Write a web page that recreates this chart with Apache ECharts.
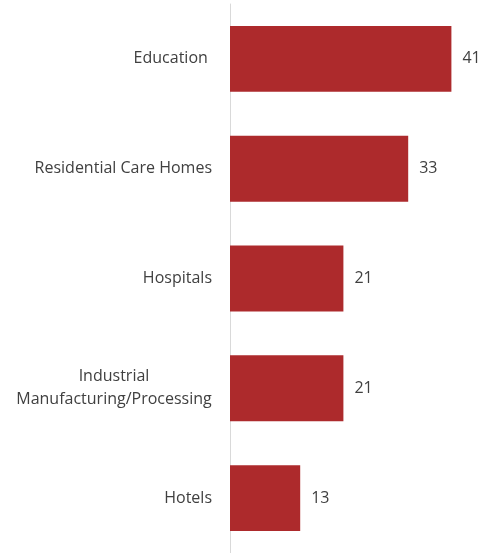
<!DOCTYPE html>
<html>
<head>
<meta charset="utf-8">
<script src="https://cdn.jsdelivr.net/npm/echarts@6/dist/echarts.min.js"></script>
<style>
  html, body { margin: 0; padding: 0; background: #fff; }
  #chart { width: 498px; height: 553px; }
</style>
</head>
<body>
<div id="chart"></div>
<script>
// sectors, top to bottom
const categories = ['Education ', 'Residential Care Homes', 'Hospitals', 'Industrial\nManufacturing/Processing', 'Hotels'];
const values = [41, 33, 21, 21, 13];

const labelFont = '16px "Open Sans"';
// width of the longest line, so wrapped labels centre their lines
const ctx = document.createElement('canvas').getContext('2d');
ctx.font = labelFont;
const longLine = Math.ceil(ctx.measureText('Manufacturing/Processing').width);

const chart = echarts.init(document.getElementById('chart'));
const option = {
  animation: false,
  grid: { left: 230, right: 25, top: 4, height: 549 },
  xAxis: {
    type: 'value',
    min: 0,
    max: 45,
    show: false
  },
  yAxis: {
    type: 'category',
    inverse: true,
    data: categories,
    axisLine: { show: true, lineStyle: { color: '#d9d9d9', width: 1 } },
    axisTick: { show: false },
    axisLabel: {
      margin: 18,
      color: '#404040',
      fontFamily: 'Open Sans',
      fontSize: 16,
      formatter: function (v) {
        if (v.indexOf('\n') < 0) return v;
        return v.split('\n').map(function (s) { return '{c|' + s + '}'; }).join('\n');
      },
      rich: {
        c: { width: longLine, align: 'center', color: '#404040', fontFamily: 'Open Sans', fontSize: 16, lineHeight: 23 }
      }
    }
  },
  series: [{
    type: 'bar',
    data: values,
    barWidth: '60%',
    itemStyle: { color: '#ad2a2c' },
    label: {
      show: true,
      position: 'right',
      distance: 11,
      color: '#404040',
      fontFamily: 'Open Sans',
      fontSize: 16
    }
  }]
};
chart.setOption(option);
</script>
</body>
</html>
